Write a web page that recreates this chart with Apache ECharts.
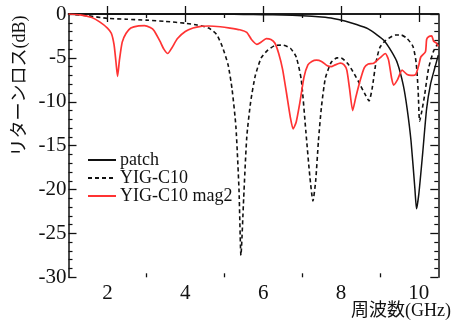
<!DOCTYPE html>
<html>
<head>
<meta charset="utf-8">
<script src="https://cdn.jsdelivr.net/npm/echarts@6/dist/echarts.min.js"></script>
<style>
html, body { margin: 0; padding: 0; background: #fff; }
#container { width: 452px; height: 320px; }
</style>
</head>
<body>
<div id="container"></div>
<script>
var seriesNames = ['patch', 'YIG-C10', 'YIG-C10 mag2'];

var xMajorTicks = [2, 4, 6, 8, 10];
var xMinorTicks = [3, 5, 7, 9];

// patch (GHz, dB)
var patchFreq = [1, 2, 3, 4, 5, 5.5, 6, 6.5, 7, 7.5, 7.8, 8.1, 8.4, 8.7, 8.9, 9.1, 9.3, 9.45, 9.6, 9.7, 9.8, 9.9, 9.94, 10.0, 10.1, 10.2, 10.3, 10.4, 10.5];
var patchDb = [0, 0, 0, 0, -0.02, -0.05, -0.08, -0.12, -0.2, -0.35, -0.5, -0.8, -1.2, -1.7, -2.3, -3.0, -4.3, -5.6, -8.1, -10.8, -14.5, -20, -22.2, -20.5, -15.8, -10.8, -8.0, -6.3, -4.7];

// YIG-C10
var yigFreq = [1, 1.5, 2, 2.5, 3, 3.5, 4, 4.3, 4.6, 4.8, 4.95, 5.1, 5.2, 5.3, 5.38, 5.43, 5.5, 5.58, 5.68, 5.8, 5.95, 6.1, 6.3, 6.5, 6.7, 6.85, 6.98, 7.1, 7.2, 7.28, 7.35, 7.42, 7.5, 7.6, 7.75, 7.9, 8.0, 8.2, 8.45, 8.6, 8.72, 8.8, 8.9, 9.0, 9.15, 9.4, 9.55, 9.7, 9.85, 9.93, 9.98, 10.02, 10.08, 10.15, 10.25, 10.38, 10.5];
var yigDb = [0, -0.2, -0.5, -0.6, -0.7, -0.85, -1.05, -1.25, -1.6, -2.3, -3.7, -5.8, -8.5, -12.8, -20, -27.5, -21, -14, -10, -7, -5.0, -4.2, -3.6, -3.55, -3.9, -4.9, -7.5, -13.5, -18.5, -21.3, -19, -14.5, -10.5, -7.3, -5.5, -5.0, -5.0, -5.8, -7.7, -9.0, -9.9, -8.5, -5.5, -3.8, -3.0, -2.4, -2.4, -2.8, -3.7, -5.5, -8.5, -12.2, -11, -9.2, -6.2, -4.2, -3.3];

// YIG-C10 mag2
var mag2Freq = [1, 1.3, 1.6, 1.8, 2.0, 2.1, 2.17, 2.22, 2.26, 2.31, 2.38, 2.48, 2.6, 2.8, 2.95, 3.1, 3.2, 3.35, 3.45, 3.55, 3.65, 3.8, 4.0, 4.2, 4.4, 4.6, 4.9, 5.15, 5.4, 5.58, 5.7, 5.84, 5.95, 6.08, 6.2, 6.3, 6.4, 6.5, 6.6, 6.7, 6.77, 6.85, 6.94, 7.05, 7.15, 7.25, 7.37, 7.5, 7.65, 7.75, 7.85, 7.98, 8.08, 8.15, 8.22, 8.3, 8.38, 8.49, 8.6, 8.7, 8.84, 9.0, 9.14, 9.22, 9.3, 9.35, 9.45, 9.57, 9.7, 9.8, 9.92, 10.0, 10.05, 10.17, 10.2, 10.25, 10.33, 10.38, 10.45, 10.5];
var mag2Db = [0, -0.1, -0.4, -0.9, -1.6, -2.2, -3.5, -5.5, -7.1, -5.2, -3.2, -2.2, -1.6, -1.35, -1.33, -1.55, -1.9, -3.1, -4.0, -4.5, -3.9, -2.8, -2.0, -1.6, -1.4, -1.37, -1.45, -1.6, -1.8, -2.1, -2.9, -3.45, -3.2, -2.8, -2.9, -3.3, -4.5, -6.3, -9.0, -11.8, -13.1, -12.3, -10.2, -7.2, -5.8, -5.4, -5.25, -5.4, -5.9, -6.0, -5.8, -5.6, -5.8, -6.4, -8.5, -11.0, -9.5, -7.6, -6.1, -5.7, -5.6, -5.0, -4.5, -5.2, -7.3, -8.1, -7.5, -6.4, -6.9, -7.0, -6.9, -5.8, -4.9, -4.3, -2.9, -2.6, -2.5, -3.1, -3.3, -3.7];

function pairs(xs, ys) {
    var out = [];
    for (var i = 0; i < xs.length; i++) out.push([xs[i], ys[i]]);
    return out;
}

var serif = "'Liberation Serif', 'Noto Sans CJK JP', serif";
var axisLine = { show: true, lineStyle: { color: '#111', width: 1.5 } };

function xAxisDef(pos, ticks, len, showLine, showLabel) {
    return {
        type: 'value', min: 1, max: 10.5, position: pos,
        axisLine: { show: showLine, lineStyle: { color: '#111', width: 1.5 } },
        axisTick: { show: true, inside: true, length: len, customValues: ticks, lineStyle: { color: '#111', width: 1.3 } },
        axisLabel: { show: showLabel, customValues: ticks, margin: 6, color: '#111', fontFamily: serif, fontSize: 21 },
        splitLine: { show: false }
    };
}

function yAxisDef(pos, showLabel) {
    return {
        type: 'value', min: -30, max: 0, interval: 5, position: pos,
        axisLine: axisLine,
        axisTick: { show: true, inside: true, length: 8, lineStyle: { color: '#111', width: 1.3 } },
        minorTick: { show: true, splitNumber: 5, length: 4, lineStyle: { color: '#111', width: 1.2 } },
        axisLabel: { show: showLabel, margin: 2, color: '#111', fontFamily: serif, fontSize: 21 },
        splitLine: { show: false }
    };
}

var myChart = echarts.init(document.getElementById('container'));

myChart.setOption({
    animation: false,
    backgroundColor: '#fff',
    grid: { left: 68.5, right: 13.7, top: 14, bottom: 42.7 },
    xAxis: [
        xAxisDef('bottom', xMajorTicks, 8, true, true),
        xAxisDef('top', xMajorTicks, 8, true, false),
        xAxisDef('bottom', xMinorTicks, 4, false, false),
        xAxisDef('top', xMinorTicks, 4, false, false)
    ],
    yAxis: [yAxisDef('left', true), yAxisDef('right', false)],
    legend: {
        orient: 'vertical', left: 82, top: 146,
        itemWidth: 28, itemHeight: 12, itemGap: 0,
        itemStyle: { opacity: 0, borderWidth: 0 },
        textStyle: { fontFamily: serif, fontSize: 18, lineHeight: 18, color: '#111', padding: [0, 0, 0, -1] },
        data: seriesNames
    },
    graphic: [
        {
            type: 'text', x: 20, y: 86, rotation: Math.PI / 2,
            style: { text: 'リターンロス(dB)', fontFamily: serif, fontSize: 18, fill: '#111', align: 'center', verticalAlign: 'middle' }
        },
        {
            type: 'text', x: 451, y: 311,
            style: { text: '周波数(GHz)', fontFamily: serif, fontSize: 18, fill: '#111', align: 'right', verticalAlign: 'middle' }
        }
    ],
    series: [
        {
            name: seriesNames[0], type: 'line', data: pairs(patchFreq, patchDb),
            symbol: 'none', smooth: 0.2, lineStyle: { color: '#111', width: 1.5 }, itemStyle: { color: '#111' }
        },
        {
            name: seriesNames[1], type: 'line', data: pairs(yigFreq, yigDb),
            symbol: 'none', smooth: 0.2, lineStyle: { color: '#111', width: 1.6, type: [4, 3] }, itemStyle: { color: '#111' }
        },
        {
            name: seriesNames[2], type: 'line', data: pairs(mag2Freq, mag2Db),
            symbol: 'none', smooth: 0.2, lineStyle: { color: '#f33', width: 1.7 }, itemStyle: { color: '#f33' }
        }
    ]
});
</script>
</body>
</html>
